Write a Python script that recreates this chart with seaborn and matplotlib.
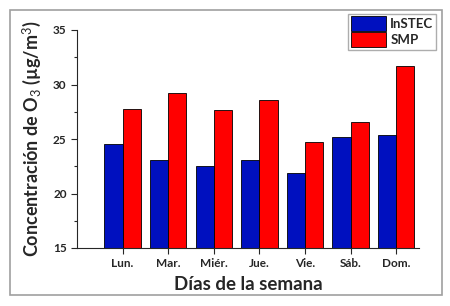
import pandas as pd
import seaborn as sns
import matplotlib.pyplot as plt
from matplotlib.patches import Rectangle
from matplotlib.ticker import MultipleLocator

# valores
dias = ['Lun.', 'Mar.', 'Miér.', 'Jue.', 'Vie.', 'Sáb.', 'Dom.']
instec = [24.5, 23.1, 22.5, 23.1, 21.85, 25.2, 25.4]
smp = [27.75, 29.25, 27.7, 28.55, 24.7, 26.6, 31.7]

df = pd.DataFrame({'dia': dias * 2,
                   'valor': instec + smp,
                   'sitio': ['InSTEC'] * len(dias) + ['SMP'] * len(dias)})

sns.set_style('ticks')
plt.rcParams['font.family'] = ['Lato', 'DejaVu Sans']
plt.rcParams['mathtext.fontset'] = 'custom'
plt.rcParams['mathtext.rm'] = 'Lato'
plt.rcParams['mathtext.it'] = 'Lato:italic'

fig = plt.figure(figsize=(4.5, 3.06), dpi=100)
ax = fig.add_axes([77 / 450, 58 / 306, 342 / 450, 218 / 306])

sns.barplot(x='dia', y='valor', hue='sitio', data=df, ax=ax,
            palette={'InSTEC': '#0010bf', 'SMP': '#ff0000'},
            edgecolor='black', linewidth=0.6, width=0.8, saturation=1)

ax.set_ylim(15, 35)
ax.set_xlim(-1, 6.5)
ax.yaxis.set_major_locator(MultipleLocator(5))
ax.yaxis.set_minor_locator(MultipleLocator(2.5))
ax.tick_params(axis='both', which='major', length=4, width=0.8, labelsize=8.5)
ax.tick_params(axis='y', which='minor', length=2.5, width=0.8)
for lab in ax.get_xticklabels() + ax.get_yticklabels():
    lab.set_fontweight('bold')
sns.despine(ax=ax)
ax.spines['left'].set_linewidth(0.8)
ax.spines['bottom'].set_linewidth(0.8)

ax.set_xlabel('Días de la semana', fontsize=13.5, fontweight='bold', labelpad=5)
ax.set_ylabel('Concentración de O$_3$ (µg/m$^3$)', fontsize=13,
              fontweight='bold', labelpad=7)

leg = ax.legend(loc='upper right', bbox_to_anchor=(1.05, 1.075), fontsize=9.5,
                frameon=True, fancybox=False, edgecolor='#999999',
                handlelength=2.7, handleheight=1.35, handletextpad=0.3,
                borderpad=0.2, labelspacing=0.1, borderaxespad=0)
for t in leg.get_texts():
    t.set_fontweight('bold')

# marco gris alrededor de la figura
fig.patches.append(Rectangle((10 / 450, 11 / 306), 432 / 450, 285 / 306,
                             transform=fig.transFigure, fill=False,
                             edgecolor='#a0a0a0', linewidth=1.2))

fig.savefig('out.png', dpi=100)
